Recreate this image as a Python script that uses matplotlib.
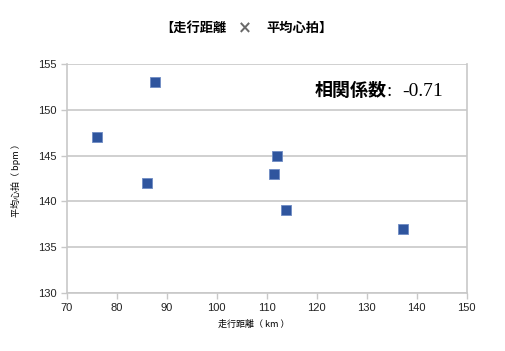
import matplotlib.pyplot as plt

plt.rcParams['font.family'] = ['Noto Sans CJK JP', 'DejaVu Sans']

# 走行距離 (km) / 平均心拍 (bpm)
distance_km = [76.1, 87.7, 86.1, 111.4, 112.0, 113.8, 137.3]
heart_bpm = [147, 153, 142, 143, 145, 139, 137]

x_ticks = [70, 80, 90, 100, 110, 120, 130, 140, 150]
y_ticks = [130, 135, 140, 145, 150, 155]
corr_label = "-0.71"

fig = plt.figure(figsize=(5.05, 3.51), dpi=100)
ax = fig.add_axes([66.7 / 505, 1 - 292.7 / 351, 400 / 505, 228.5 / 351])

grid_c = "#c8c8c8"
ax.scatter(distance_km, heart_bpm, marker="s", s=44, color="#2f559e",
           edgecolors="#6f8cc4", linewidths=0.6, zorder=3)

ax.set_xlim(70, 150)
ax.set_ylim(130, 155)
ax.set_xticks(x_ticks)
ax.set_yticks(y_ticks)
ax.yaxis.grid(True, color=grid_c, linewidth=1.2)
ax.set_axisbelow(True)
for side in ["left", "bottom", "right"]:
    ax.spines[side].set_color(grid_c)
    ax.spines[side].set_linewidth(1.2)
ax.spines["top"].set_visible(False)
ax.tick_params(axis="both", colors=grid_c, labelcolor="#222222",
               labelsize=8, length=4, width=1)
for lab in ax.get_xticklabels() + ax.get_yticklabels():
    lab.set_family(["Liberation Sans", "DejaVu Sans"])

ax.set_xlabel("走行距離（ km ）", fontsize=6.5, ha="left")
ax.xaxis.set_label_coords((218 - 66.7) / 400, -0.12)
ax.set_ylabel("平均心拍（ bpm ）", fontsize=6.5)
ax.yaxis.set_label_coords(-0.115, 0.5)

# title
ty = 1 - 28 / 351
fig.text(160 / 505, ty, "【走行距離", fontsize=9.5, fontweight="bold",
         ha="left", va="center")
fig.text(245 / 505, ty, "×", fontsize=12, fontweight="bold",
         color="#6a6a6a", ha="center", va="center", family="DejaVu Sans")
fig.text(333 / 505, ty, "平均心拍】", fontsize=9.5,
         fontweight="bold", ha="right", va="center")

# correlation annotation
fig.text(387 / 505, 1 - 96 / 351, "相関係数", fontsize=13,
         fontweight="bold", ha="right", va="baseline")
fig.text(387 / 505, 1 - 96 / 351, ":", fontsize=14,
         family="Liberation Serif", ha="left", va="baseline")
fig.text(402 / 505, 1 - 96 / 351, corr_label, fontsize=14,
         family="Liberation Serif", ha="left", va="baseline")

fig.savefig("out.png", dpi=100)
